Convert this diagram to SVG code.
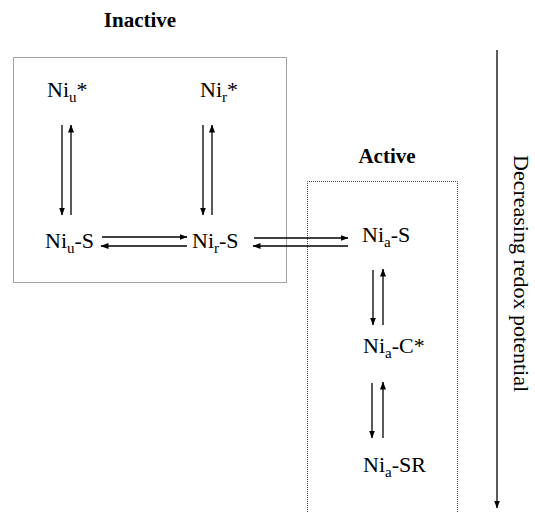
<svg xmlns="http://www.w3.org/2000/svg" width="535" height="512" viewBox="0 0 535 512">
<defs>
<marker id="ah" markerWidth="8" markerHeight="6" refX="7.5" refY="3" orient="auto" markerUnits="userSpaceOnUse">
<path d="M0,0 L8,3 L0,6 Z" fill="#000"/>
</marker>
</defs>
<style>
.box{fill:none;stroke:#444;stroke-width:1;stroke-dasharray:1 1}
.lbl{font-family:"Liberation Serif","Times New Roman",serif;font-size:22px;fill:#000}
.ttl{font-family:"Liberation Serif","Times New Roman",serif;font-size:21px;font-weight:bold;fill:#000}
.sub{font-size:15px}
.ar{stroke:#000;stroke-width:1.3;fill:none;marker-end:url(#ah)}
</style>
<rect width="535" height="512" fill="#fff"/>
<g id="inactive-box">
<rect class="box" x="13.5" y="57.5" width="273" height="225"/>
<text class="ttl" x="140" y="27" text-anchor="middle">Inactive</text>
</g>
<g id="active-box">
<path class="box" d="M307.5,512 V181.5 H457.5 V512"/>
<text class="ttl" x="387" y="163" text-anchor="middle">Active</text>
</g>
<g id="Niu-star"><text class="lbl" x="47" y="97">Ni<tspan class="sub" dy="5">u</tspan><tspan dy="-5">*</tspan></text></g>
<g id="Nir-star"><text class="lbl" x="200" y="97">Ni<tspan class="sub" dy="5">r</tspan><tspan dy="-5">*</tspan></text></g>
<g id="Niu-S"><text class="lbl" x="45" y="248">Ni<tspan class="sub" dy="5">u</tspan><tspan dy="-5">-S</tspan></text></g>
<g id="Nir-S"><text class="lbl" x="192" y="248">Ni<tspan class="sub" dy="5">r</tspan><tspan dy="-5">-S</tspan></text></g>
<g id="Nia-S"><text class="lbl" x="362" y="242">Ni<tspan class="sub" dy="5">a</tspan><tspan dy="-5">-S</tspan></text></g>
<g id="Nia-C"><text class="lbl" x="363" y="353">Ni<tspan class="sub" dy="5">a</tspan><tspan dy="-5">-C*</tspan></text></g>
<g id="Nia-SR"><text class="lbl" x="363" y="472">Ni<tspan class="sub" dy="5">a</tspan><tspan dy="-5">-SR</tspan></text></g>
<g id="redox-axis">
<line class="ar" x1="497" y1="50" x2="497" y2="508"/>
<text class="lbl" transform="translate(514,155) rotate(90)">Decreasing redox potential</text>
</g>
<g id="connectors">
<line class="ar" x1="62" y1="125" x2="62" y2="215"/>
<line class="ar" x1="71" y1="215" x2="71" y2="125"/>
<line class="ar" x1="203" y1="125" x2="203" y2="215"/>
<line class="ar" x1="212" y1="215" x2="212" y2="125"/>
<line class="ar" x1="102" y1="237" x2="187" y2="237"/>
<line class="ar" x1="187" y1="246" x2="101" y2="246"/>
<line class="ar" x1="254" y1="238" x2="348" y2="238"/>
<line class="ar" x1="348" y1="246" x2="253" y2="246"/>
<line class="ar" x1="373" y1="270" x2="373" y2="325"/>
<line class="ar" x1="383" y1="325" x2="383" y2="269"/>
<line class="ar" x1="372" y1="383" x2="372" y2="438"/>
<line class="ar" x1="383" y1="438" x2="383" y2="382"/>
</g>
</svg>
